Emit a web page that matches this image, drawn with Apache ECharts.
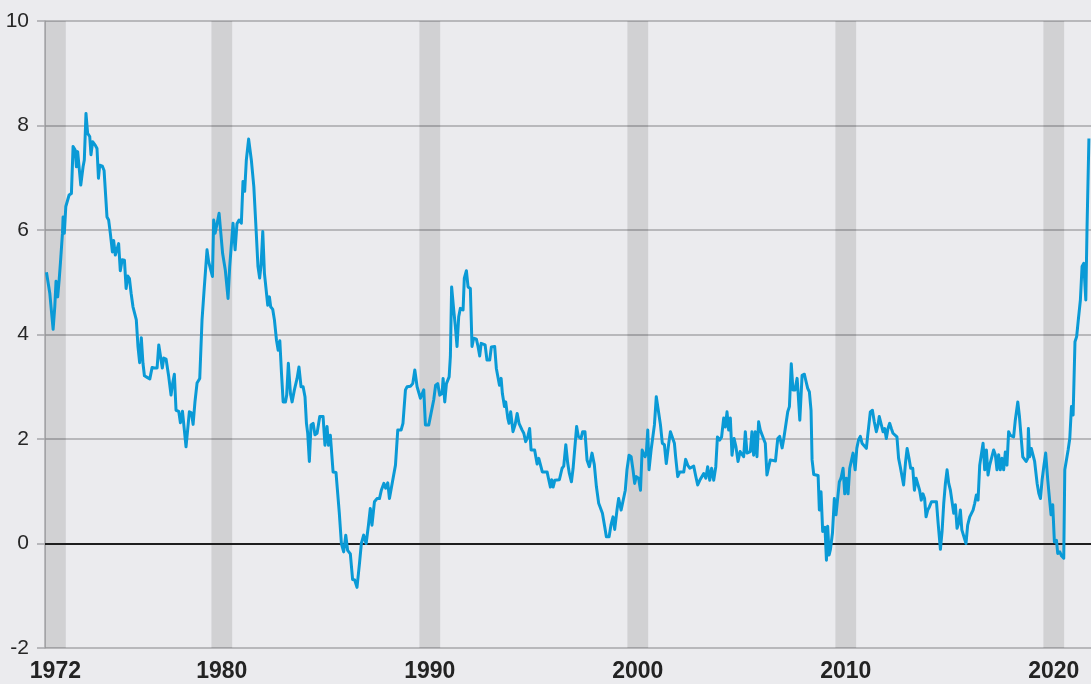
<!DOCTYPE html>
<html>
<head>
<meta charset="utf-8">
<script src="https://cdn.jsdelivr.net/npm/echarts@6/dist/echarts.min.js"></script>
<style>
html,body{margin:0;padding:0;background:#ebebee;}
#chart{width:1091px;height:684px;}
</style>
</head>
<body>
<div id="chart"></div>
<script>
// Decimal years (time positions of the monthly observations)
const years = [
1972.07,1972.15,1972.23,1972.29,1972.39,1972.47,1972.53,1972.61,1972.68,1972.74,
1972.84,1972.87,1972.93,1973.00,1973.09,1973.16,1973.27,1973.35,1973.45,1973.51,
1973.57,1973.64,1973.72,1973.83,1973.89,1973.97,1974.05,1974.15,1974.21,1974.29,
1974.42,1974.50,1974.57,1974.63,1974.76,1974.84,1974.98,1975.06,1975.14,1975.24,
1975.30,1975.38,1975.46,1975.54,1975.62,1975.71,1975.82,1975.90,1975.98,1976.06,
1976.14,1976.23,1976.31,1976.39,1976.47,1976.55,1976.63,1976.71,1976.78,1976.91,
1977.04,1977.15,1977.26,1977.39,1977.47,1977.56,1977.64,1977.71,1977.82,1977.95,
1978.06,1978.14,1978.22,1978.30,1978.43,1978.51,1978.61,1978.78,1978.94,1979.04,
1979.12,1979.21,1979.31,1979.44,1979.55,1979.66,1979.79,1979.87,1979.95,1980.05,
1980.11,1980.18,1980.27,1980.37,1980.46,1980.54,1980.67,1980.80,1980.88,1980.96,
1981.04,1981.14,1981.23,1981.33,1981.44,1981.52,1981.60,1981.68,1981.79,1981.92,
1982.04,1982.15,1982.24,1982.32,1982.39,1982.47,1982.55,1982.64,1982.71,1982.79,
1982.85,1982.95,1983.03,1983.13,1983.21,1983.29,1983.37,1983.45,1983.56,1983.62,
1983.70,1983.80,1983.88,1983.99,1984.12,1984.21,1984.31,1984.41,1984.50,1984.57,
1984.63,1984.71,1984.79,1984.89,1984.98,1985.08,1985.21,1985.37,1985.46,1985.56,
1985.63,1985.72,1985.85,1985.99,1986.15,1986.25,1986.36,1986.46,1986.55,1986.68,
1986.79,1986.89,1987.00,1987.12,1987.21,1987.32,1987.44,1987.55,1987.64,1987.72,
1987.84,1987.96,1988.08,1988.17,1988.29,1988.38,1988.48,1988.56,1988.69,1988.85,
1988.96,1989.12,1989.21,1989.33,1989.41,1989.57,1989.68,1989.78,1989.89,1989.97,
1990.05,1990.11,1990.21,1990.29,1990.37,1990.45,1990.56,1990.69,1990.78,1990.88,
1990.98,1991.09,1991.14,1991.22,1991.30,1991.43,1991.49,1991.55,1991.65,1991.73,
1991.81,1991.89,1991.97,1992.10,1992.16,1992.26,1992.34,1992.45,1992.53,1992.61,
1992.74,1992.82,1992.90,1992.97,1993.06,1993.16,1993.25,1993.38,1993.46,1993.62,
1993.70,1993.77,1993.85,1993.93,1993.99,1994.09,1994.15,1994.25,1994.31,1994.39,
1994.50,1994.60,1994.70,1994.79,1994.94,1995.02,1995.11,1995.21,1995.30,1995.37,
1995.54,1995.66,1995.74,1995.82,1995.91,1996.14,1996.22,1996.30,1996.36,1996.43,
1996.51,1996.73,1996.86,1996.94,1997.04,1997.13,1997.21,1997.31,1997.39,1997.48,
1997.56,1997.64,1997.77,1997.85,1997.96,1998.06,1998.17,1998.30,1998.41,1998.51,
1998.62,1998.70,1998.80,1998.91,1998.99,1999.12,1999.21,1999.31,1999.39,1999.50,
1999.58,1999.70,1999.79,1999.90,1999.98,2000.08,2000.18,2000.27,2000.35,2000.43,
2000.54,2000.63,2000.71,2000.79,2000.85,2000.91,2000.98,2001.04,2001.14,2001.23,
2001.30,2001.39,2001.49,2001.59,2001.68,2001.78,2001.87,2001.99,2002.07,2002.16,
2002.26,2002.32,2002.42,2002.52,2002.71,2002.80,2002.90,2003.00,2003.19,2003.28,
2003.38,2003.48,2003.57,2003.67,2003.77,2003.86,2003.96,2004.05,2004.15,2004.25,
2004.33,2004.44,2004.53,2004.63,2004.71,2004.79,2004.87,2004.95,2005.03,2005.13,
2005.22,2005.32,2005.42,2005.51,2005.59,2005.67,2005.75,2005.91,2005.99,2006.07,
2006.15,2006.23,2006.31,2006.39,2006.47,2006.55,2006.63,2006.71,2006.79,2006.87,
2007.12,2007.23,2007.32,2007.44,2007.52,2007.61,2007.71,2007.79,2007.88,2007.96,
2008.06,2008.16,2008.20,2008.29,2008.40,2008.51,2008.59,2008.67,2008.75,2008.83,
2008.88,2008.96,2009.17,2009.23,2009.31,2009.39,2009.44,2009.50,2009.57,2009.63,
2009.70,2009.76,2009.86,2009.95,2010.03,2010.11,2010.19,2010.27,2010.37,2010.45,
2010.53,2010.61,2010.69,2010.77,2010.85,2010.95,2011.03,2011.11,2011.20,2011.28,
2011.49,2011.55,2011.63,2011.68,2011.78,2011.87,2011.97,2012.05,2012.11,2012.21,
2012.29,2012.37,2012.45,2012.53,2012.61,2012.69,2012.77,2012.96,2013.04,2013.12,
2013.20,2013.28,2013.37,2013.45,2013.54,2013.62,2013.72,2013.80,2013.88,2013.97,
2014.05,2014.13,2014.21,2014.29,2014.36,2014.44,2014.52,2014.62,2014.86,2014.94,
2015.05,2015.13,2015.21,2015.29,2015.37,2015.45,2015.53,2015.61,2015.69,2015.77,
2015.85,2015.93,2016.01,2016.08,2016.16,2016.28,2016.36,2016.46,2016.62,2016.70,
2016.78,2016.86,2016.94,2017.02,2017.10,2017.18,2017.26,2017.34,2017.42,2017.50,
2017.61,2017.69,2017.77,2017.85,2017.93,2018.01,2018.09,2018.17,2018.25,2018.33,
2018.41,2018.57,2018.65,2018.77,2018.85,2018.93,2019.01,2019.17,2019.25,2019.28,
2019.34,2019.42,2019.50,2019.58,2019.70,2019.78,2019.86,2019.94,2020.02,2020.11,
2020.21,2020.30,2020.37,2020.45,2020.53,2020.63,2020.69,2020.79,2020.88,2020.98,
2021.03,2021.11,2021.19,2021.27,2021.35,2021.43,2021.52,2021.60,2021.68,2021.78,
2021.86,2021.94,2022.04,2022.10,2022.19
];

// Rate (%) at each position
const rates = [
5.19,5.17,4.79,4.77,4.10,4.53,5.02,4.72,5.04,5.36,
5.94,6.25,5.94,6.45,6.48,6.67,6.70,7.60,7.53,7.21,
7.50,7.50,6.86,7.21,7.34,8.23,7.85,7.79,7.44,7.69,
7.62,7.56,6.99,7.24,7.22,7.14,6.25,6.19,5.94,5.58,
5.80,5.52,5.49,5.74,5.22,5.43,5.42,4.88,5.12,5.07,
4.79,4.53,4.50,4.28,3.77,3.46,3.94,3.45,3.21,3.18,
3.15,3.37,3.36,3.36,3.80,3.80,3.36,3.55,3.53,3.19,
2.84,3.07,3.24,2.55,2.53,2.31,2.53,1.85,2.52,2.50,
2.28,2.71,3.07,3.16,4.28,4.91,5.62,5.39,5.39,5.11,
6.19,5.94,6.12,6.32,6.29,5.55,5.23,4.69,5.30,5.33,
6.13,5.62,6.12,6.19,6.13,6.93,6.74,7.34,7.74,7.34,
6.83,6.00,5.30,5.08,5.34,5.97,5.17,5.14,4.56,4.72,
4.53,4.48,4.28,3.89,3.70,3.88,3.26,2.71,2.71,2.84,
3.45,2.87,2.71,2.94,3.16,3.38,3.00,3.00,2.81,2.30,
2.11,1.57,2.27,2.30,2.08,2.11,2.43,2.43,1.88,2.24,
1.88,2.07,1.37,1.36,0.58,0.00,-0.16,0.16,-0.13,-0.20,
-0.69,-0.70,-0.84,-0.38,0.00,0.16,0.00,0.35,0.67,0.35,
0.80,0.86,0.86,1.02,1.15,1.06,1.16,0.86,1.15,1.50,
2.17,2.17,2.30,2.94,3.00,3.01,3.06,3.32,3.00,2.97,
2.78,2.78,2.94,2.27,2.30,2.27,2.49,2.75,3.03,3.06,
2.84,2.87,3.16,2.71,3.06,3.19,3.58,4.91,4.47,4.15,
3.77,4.34,4.50,4.47,5.08,5.22,4.91,4.88,3.77,3.93,
3.91,3.77,3.59,3.83,3.83,3.80,3.51,3.51,3.76,3.77,
3.35,3.32,3.03,3.16,2.87,2.62,2.71,2.40,2.30,2.52,
2.14,2.27,2.49,2.30,2.17,2.11,1.95,2.04,2.20,1.79,
1.79,1.52,1.63,1.63,1.37,1.37,1.22,1.08,1.22,1.08,
1.21,1.22,1.44,1.48,1.89,1.54,1.34,1.18,1.44,1.47,
2.24,2.05,2.01,2.14,2.14,1.60,1.47,1.73,1.51,1.09,
0.77,0.77,0.58,0.32,0.13,0.13,0.35,0.51,0.27,0.64,
0.86,0.64,0.65,1.02,1.41,1.69,1.66,1.41,1.15,1.28,
1.25,1.02,1.79,1.82,1.66,1.73,2.17,1.41,1.79,1.79,
2.27,2.81,2.54,2.27,1.92,1.89,1.53,1.92,2.14,2.14,
1.92,1.66,1.28,1.37,1.37,1.61,1.50,1.44,1.48,1.30,
1.12,1.21,1.21,1.34,1.25,1.47,1.21,1.44,1.21,1.47,
2.04,1.98,2.04,2.40,2.23,2.52,2.17,2.40,1.69,2.01,
1.85,1.57,1.76,1.79,1.66,2.14,1.73,1.76,2.14,1.69,
2.14,1.66,2.33,2.17,2.20,2.00,1.92,1.31,1.34,1.60,
1.58,2.01,2.05,1.83,2.01,1.98,2.52,2.62,3.44,2.94,
2.94,3.16,2.94,2.36,3.22,3.24,3.10,2.97,2.90,2.55,
1.60,1.32,1.30,0.64,0.99,0.23,0.20,0.31,-0.32,0.33,
-0.22,-0.12,0.20,0.86,0.55,0.55,1.18,1.25,1.44,0.95,
1.25,0.95,1.44,1.41,1.73,1.41,1.82,1.98,2.05,1.92,
1.82,2.05,2.08,2.52,2.55,2.33,2.14,2.27,2.43,2.27,
2.14,2.20,2.01,2.20,2.30,2.20,2.11,2.04,1.63,1.47,
1.47,1.12,1.54,1.82,1.63,1.44,1.44,1.02,1.25,1.25,
1.02,0.83,0.95,0.86,0.51,0.64,0.70,0.80,0.80,0.39,
-0.11,0.23,0.77,1.15,1.41,1.15,1.02,0.80,0.58,0.74,
0.29,0.39,0.64,0.26,0.23,0.00,0.35,0.51,0.64,0.77,
0.93,0.83,1.50,1.50,1.92,1.41,1.79,1.31,1.50,1.47,
1.79,1.70,1.41,1.70,1.41,1.63,1.41,1.75,1.50,2.14,
2.07,2.04,2.36,2.71,2.43,2.04,1.66,1.57,1.63,2.20,
1.66,1.82,1.79,1.57,1.15,0.96,0.86,1.22,1.47,1.73,
1.22,0.83,0.55,0.74,0.03,0.06,-0.19,-0.16,-0.24,-0.28,
1.41,1.41,1.79,2.01,2.62,2.46,3.86,3.96,4.28,4.66,
5.30,5.36,4.66,6.06,7.75
];

// Shaded one-year bands and the x tick labels centred in them
const bandStarts = [1972, 1980, 1990, 2000, 2010, 2020];
const tickLabels = ['1972', '1980', '1990', '2000', '2010', '2020'];
const yTicks = [-2, 0, 2, 4, 6, 8, 10];

const n = Math.min(years.length, rates.length);
const seriesData = [];
for (let i = 0; i < n; i++) seriesData.push([years[i], rates[i]]);

const chart = echarts.init(document.getElementById('chart'), null, {renderer: 'canvas'});
const FONT = '"Liberation Sans", Arial, Helvetica, sans-serif';
const GRID = '#a7a7aa';

chart.setOption({
  backgroundColor: '#ebebee',
  animation: false,
  grid: {left: 45, right: 0, top: 21, bottom: 36, containLabel: false},
  xAxis: {
    type: 'value',
    min: 1972,
    max: 2022.29,
    axisLine: {show: false},
    axisTick: {show: false},
    splitLine: {show: false},
    axisLabel: {
      customValues: bandStarts.map(v => v + 0.5),
      formatter: function (v) {
        const i = bandStarts.indexOf(Math.round(v - 0.5));
        return i >= 0 ? tickLabels[i] : '';
      },
      fontFamily: FONT,
      fontSize: 23,
      fontWeight: 'bold',
      color: '#232323',
      margin: 12,
      showMinLabel: true,
      showMaxLabel: true
    }
  },
  yAxis: {
    type: 'value',
    min: yTicks[0],
    max: yTicks[yTicks.length - 1],
    interval: 2,
    axisLine: {show: true, lineStyle: {color: GRID, width: 1.5}},
    axisTick: {show: true, length: 8, lineStyle: {color: GRID, width: 1.5}},
    splitLine: {show: true, lineStyle: {color: GRID, width: 1.5}},
    axisLabel: {
      fontFamily: FONT,
      fontSize: 21,
      color: '#262626',
      margin: 16
    }
  },
  series: [{
    type: 'line',
    data: seriesData,
    showSymbol: false,
    symbol: 'none',
    smooth: false,
    lineStyle: {color: '#0a9ad6', width: 3, join: 'round'},
    z: 5,
    markArea: {
      silent: true,
      itemStyle: {color: 'rgba(0,0,0,0.11)'},
      data: bandStarts.map(s => [{xAxis: s}, {xAxis: s + 1}])
    },
    markLine: {
      silent: true,
      symbol: 'none',
      label: {show: false},
      lineStyle: {color: '#1e1e1e', width: 2, type: 'solid'},
      data: [{yAxis: 0}]
    }
  }]
});
</script>
</body>
</html>
